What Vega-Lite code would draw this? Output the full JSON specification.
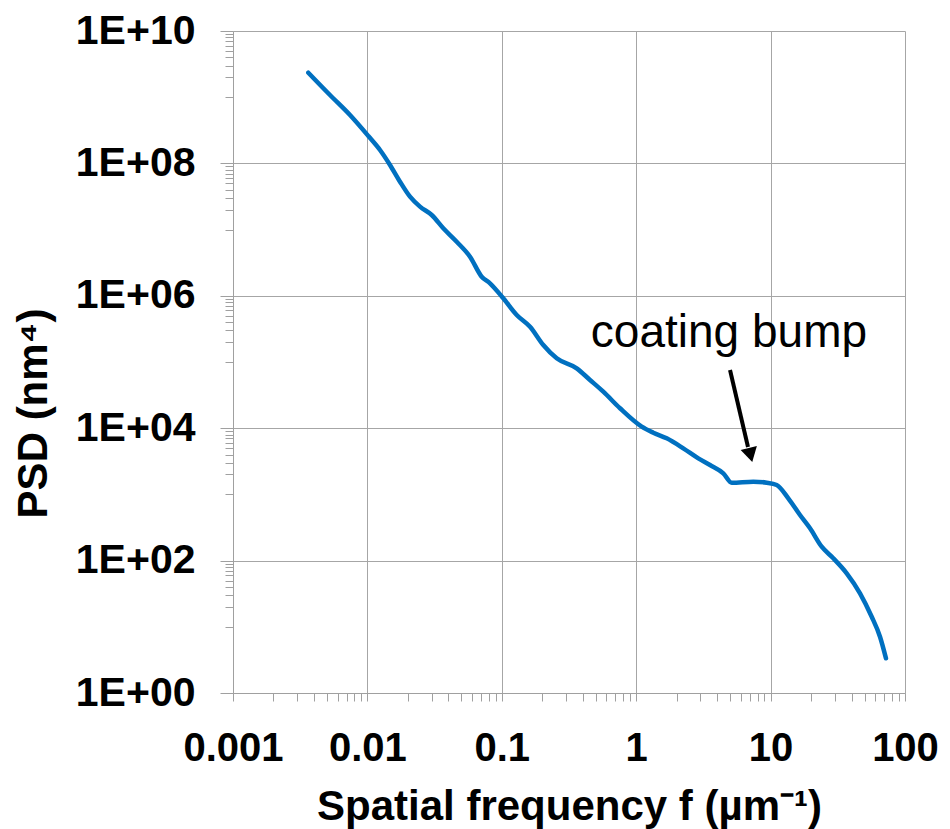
{
  "$schema": "https://vega.github.io/schema/vega-lite/v6.json",
  "width": 672,
  "height": 662,
  "autosize": "none",
  "padding": {"left": 233, "top": 31, "right": 45, "bottom": 136},
  "background": "white",
  "config": {"view": {"stroke": null}, "font": "Liberation Sans"},
  "datasets": {
    "psd": [
      {"f": 0.003634, "psd": 2.344e9},
      {"f": 0.005267, "psd": 1.079e9},
      {"f": 0.007422, "psd": 5.38e8},
      {"f": 0.01016, "psd": 2.594e8},
      {"f": 0.01241, "psd": 1.593e8},
      {"f": 0.01473, "psd": 9.46e7},
      {"f": 0.01748, "psd": 5.29e7},
      {"f": 0.02075, "psd": 3.14e7},
      {"f": 0.02462, "psd": 2.22e7},
      {"f": 0.0301, "psd": 1.662e7},
      {"f": 0.0367, "psd": 1.047e7},
      {"f": 0.04617, "psd": 6.56e6},
      {"f": 0.058, "psd": 3.9e6},
      {"f": 0.07086, "psd": 1.944e6},
      {"f": 0.0817, "psd": 1.545e6},
      {"f": 0.1026, "psd": 9.17e5},
      {"f": 0.1291, "psd": 5.13e5},
      {"f": 0.1622, "psd": 3.41e5},
      {"f": 0.2036, "psd": 1.806e5},
      {"f": 0.2562, "psd": 1.138e5},
      {"f": 0.3608, "psd": 8.03e4},
      {"f": 0.4532, "psd": 5.35e4},
      {"f": 0.569, "psd": 3.56e4},
      {"f": 0.7577, "psd": 2.0e4},
      {"f": 1.099, "psd": 1.054e4},
      {"f": 1.34, "psd": 8550},
      {"f": 1.686, "psd": 7030},
      {"f": 2.24, "psd": 4970},
      {"f": 2.898, "psd": 3510},
      {"f": 3.54, "psd": 2780},
      {"f": 4.447, "psd": 2083},
      {"f": 5.136, "psd": 1502},
      {"f": 7.435, "psd": 1556},
      {"f": 9.354, "psd": 1502},
      {"f": 11.1, "psd": 1387},
      {"f": 13.54, "psd": 873},
      {"f": 16.55, "psd": 488},
      {"f": 19.65, "psd": 307.6},
      {"f": 24.0, "psd": 162},
      {"f": 29.28, "psd": 108.4},
      {"f": 36.83, "psd": 64.3},
      {"f": 46.27, "psd": 32.1},
      {"f": 56.53, "psd": 14.2},
      {"f": 65.16, "psd": 7.09},
      {"f": 72.2, "psd": 3.34}
    ],
    "note": [{"f": 4.9, "psd": 168600, "label": "coating bump"}],
    "arrow": [{"f": 4.99, "psd": 75700, "f2": 6.79, "psd2": 5200}],
    "head": [{"f": 7.087, "psd": 3937}]
  },
  "layer": [
    {
      "data": {"name": "psd"},
      "mark": {"type": "line", "color": "#0070C0", "strokeWidth": 4.5, "strokeCap": "round", "strokeJoin": "round", "interpolate": "monotone"},
      "encoding": {
        "x": {
          "field": "f",
          "type": "quantitative",
          "scale": {"type": "log", "domain": [0.001, 100], "nice": false},
          "axis": {
            "title": "Spatial frequency f (µm⁻¹)",
            "values": [0.001, 0.002, 0.003, 0.004, 0.005, 0.006, 0.007, 0.008, 0.009,
                       0.01, 0.02, 0.03, 0.04, 0.05, 0.06, 0.07, 0.08, 0.09,
                       0.1, 0.2, 0.3, 0.4, 0.5, 0.6, 0.7, 0.8, 0.9,
                       1, 2, 3, 4, 5, 6, 7, 8, 9,
                       10, 20, 30, 40, 50, 60, 70, 80, 90, 100],
            "labelExpr": "indexof([0.001,0.01,0.1,1,10,100], datum.value) >= 0 ? format(datum.value, '~g') : ''",
            "labelFont": "Liberation Sans",
            "labelFontWeight": "bold",
            "labelFontSize": 40,
            "labelColor": "black",
            "labelBaseline": "alphabetic",
            "labelPadding": 59,
            "labelFlush": false,
            "labelOverlap": false,
            "tickSize": 8,
            "tickColor": "#a0a0a0",
            "tickWidth": 1,
            "domainColor": "#a0a0a0",
            "domainWidth": 1,
            "grid": true,
            "gridColor": "#a6a6a6",
            "gridWidth": 1,
            "gridOpacity": {"condition": {"test": "indexof([0.001,0.01,0.1,1,10,100], datum.value) >= 0", "value": 1}, "value": 0},
            "titleFont": "Liberation Sans",
            "titleFontWeight": "bold",
            "titleFontSize": 42,
            "titleColor": "black",
            "titleBaseline": "alphabetic",
            "titleY": 126
          }
        },
        "y": {
          "field": "psd",
          "type": "quantitative",
          "scale": {"type": "log", "domain": [1, 10000000000], "nice": false},
          "axis": {
            "title": "PSD (nm⁴)",
            "values": [1, 10, 20, 30, 40, 50, 60, 70, 80, 90,
                       100, 1000, 2000, 3000, 4000, 5000, 6000, 7000, 8000, 9000,
                       10000, 100000, 200000, 300000, 400000, 500000, 600000, 700000, 800000, 900000,
                       1000000, 10000000, 20000000, 30000000, 40000000, 50000000, 60000000, 70000000, 80000000, 90000000,
                       100000000, 1000000000, 2000000000, 3000000000, 4000000000, 5000000000, 6000000000, 7000000000, 8000000000, 9000000000,
                       10000000000],
            "labelExpr": "indexof([1,100,10000,1000000,100000000,10000000000], datum.value) >= 0 ? '1E+' + (datum.value < 1e10 ? '0' : '') + round(log(datum.value)/LN10) : ''",
            "labelFont": "Liberation Sans",
            "labelFontWeight": "bold",
            "labelFontSize": 41,
            "labelColor": "black",
            "labelPadding": 25,
            "labelFlush": false,
            "labelOverlap": false,
            "tickSize": {"condition": {"test": "indexof([1,100,10000,1000000,100000000,10000000000], datum.value) >= 0", "value": 13}, "value": 8},
            "tickColor": "#a0a0a0",
            "tickWidth": 1,
            "domainColor": "#a0a0a0",
            "domainWidth": 1,
            "grid": true,
            "gridColor": "#a6a6a6",
            "gridWidth": 1,
            "gridOpacity": {"condition": {"test": "indexof([1,100,10000,1000000,100000000,10000000000], datum.value) >= 0", "value": 1}, "value": 0},
            "titleFont": "Liberation Sans",
            "titleFontWeight": "bold",
            "titleFontSize": 42,
            "titleColor": "black",
            "titleAngle": -90,
            "titleAlign": "center",
            "titleBaseline": "middle",
            "titleX": -200,
            "titleY": 382
          }
        }
      }
    },
    {
      "data": {"name": "arrow"},
      "mark": {"type": "rule", "color": "black", "strokeWidth": 4},
      "encoding": {
        "x": {"field": "f", "type": "quantitative"},
        "y": {"field": "psd", "type": "quantitative"},
        "x2": {"field": "f2"},
        "y2": {"field": "psd2"}
      }
    },
    {
      "data": {"name": "head"},
      "mark": {"type": "point", "shape": "triangle-down", "filled": true, "color": "black", "opacity": 1, "size": 280, "angle": -14},
      "encoding": {
        "x": {"field": "f", "type": "quantitative"},
        "y": {"field": "psd", "type": "quantitative"}
      }
    },
    {
      "data": {"name": "note"},
      "mark": {"type": "text", "font": "Liberation Sans", "fontSize": 46, "color": "black", "align": "center", "baseline": "alphabetic"},
      "encoding": {
        "x": {"field": "f", "type": "quantitative"},
        "y": {"field": "psd", "type": "quantitative"},
        "text": {"field": "label"}
      }
    }
  ]
}
